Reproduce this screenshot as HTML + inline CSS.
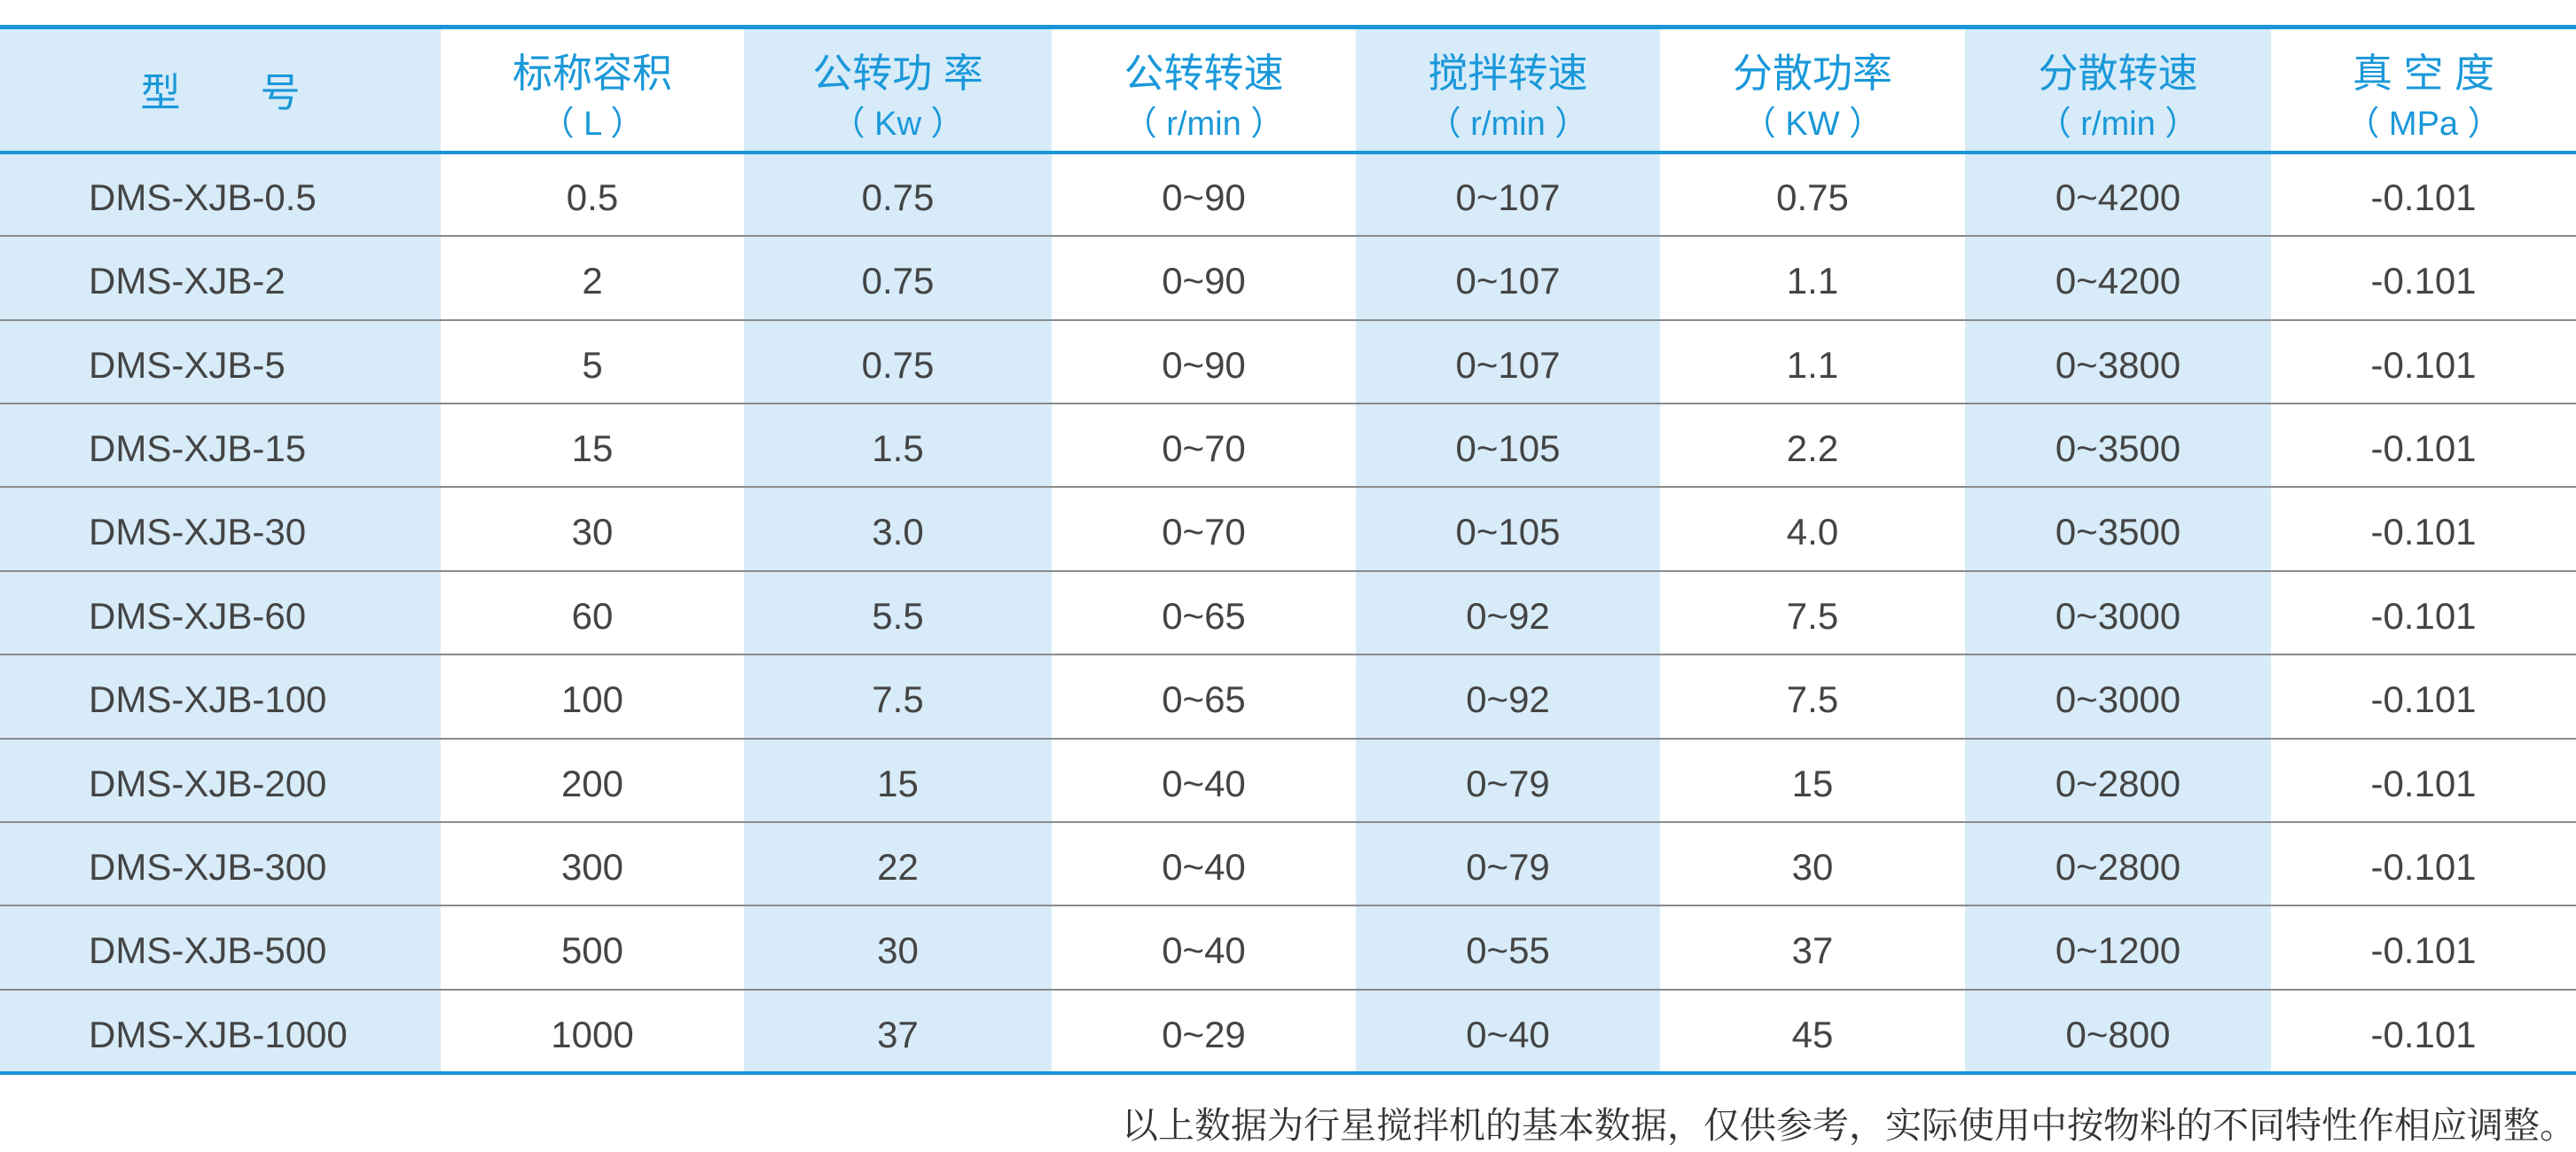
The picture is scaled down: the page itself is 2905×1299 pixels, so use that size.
<!DOCTYPE html>
<html><head><meta charset="utf-8">
<style>
html,body{margin:0;padding:0;background:#fff;}
body{width:2905px;height:1299px;position:relative;overflow:hidden;font-family:"Liberation Sans","Noto Sans CJK SC",sans-serif;}
.sh{position:absolute;background:#d7ebf9;}
.ln{position:absolute;left:0;width:2905px;}
.c{position:absolute;text-align:center;white-space:nowrap;}
.h1{color:#1a98d9;font-size:45px;line-height:50px;}
.h2{color:#1a98d9;font-size:38px;line-height:44px;}
.b{color:#444;font-size:42px;line-height:50px;}
.note{position:absolute;right:0;top:1244px;font-family:"Liberation Serif","Noto Serif CJK SC",serif;font-size:41px;line-height:50px;color:#333;white-space:nowrap;}
</style></head><body>
<div class="sh" style="left:0;top:30px;width:2905px;height:142px"></div>
<div class="sh" style="left:0;top:172px;width:497px;height:1038px"></div>
<div class="sh" style="left:839px;top:172px;width:347px;height:1038px"></div>
<div class="sh" style="left:1529px;top:172px;width:343px;height:1038px"></div>
<div class="sh" style="left:2216px;top:172px;width:345px;height:1038px"></div>
<div id="hdrwhite"></div>
<div class="ln" style="top:28px;height:5px;background:#1a96d8"></div>
<div class="ln" style="top:170px;height:4px;background:#1a96d8"></div>
<div class="ln" style="top:1208px;height:4px;background:#1a96d8"></div>
<div id="rows"></div>
<div class="note">以上数据为行星搅拌机的基本数据，仅供参考，实际使用中按物料的不同特性作相应调整。</div>
<script>
var cols=[0,497,839,1186,1529,1872,2216,2561,2905];
for(var i=1;i<8;i+=2){var d=document.createElement('div');d.style.cssText='position:absolute;background:#fff;top:33px;height:137px;left:'+cols[i]+'px;width:'+(cols[i+1]-cols[i])+'px';document.body.insertBefore(d,document.getElementById('hdrwhite'));}
var H=[["型　　号",""],["标称容积","（ L ）"],["公转功 率","（ Kw ）"],["公转转速","（ r/min ）"],["搅拌转速","（ r/min ）"],["分散功率","（ KW ）"],["分散转速","（ r/min ）"],["真 空 度","（ MPa ）"]];
var D=[["DMS-XJB-0.5","0.5","0.75","0~90","0~107","0.75","0~4200","-0.101"],
["DMS-XJB-2","2","0.75","0~90","0~107","1.1","0~4200","-0.101"],
["DMS-XJB-5","5","0.75","0~90","0~107","1.1","0~3800","-0.101"],
["DMS-XJB-15","15","1.5","0~70","0~105","2.2","0~3500","-0.101"],
["DMS-XJB-30","30","3.0","0~70","0~105","4.0","0~3500","-0.101"],
["DMS-XJB-60","60","5.5","0~65","0~92","7.5","0~3000","-0.101"],
["DMS-XJB-100","100","7.5","0~65","0~92","7.5","0~3000","-0.101"],
["DMS-XJB-200","200","15","0~40","0~79","15","0~2800","-0.101"],
["DMS-XJB-300","300","22","0~40","0~79","30","0~2800","-0.101"],
["DMS-XJB-500","500","30","0~40","0~55","37","0~1200","-0.101"],
["DMS-XJB-1000","1000","37","0~29","0~40","45","0~800","-0.101"]];
var h='';
for(var i=0;i<8;i++){var l=cols[i],w=cols[i+1]-cols[i];
 if(i==0){h+='<div class="c h1" style="left:'+l+'px;width:'+w+'px;top:80px">'+H[i][0]+'</div>';}
 else{h+='<div class="c h1" style="left:'+l+'px;width:'+w+'px;top:58px">'+H[i][0]+'</div>';
 h+='<div class="c h2" style="left:'+l+'px;width:'+w+'px;top:118px">'+H[i][1]+'</div>';}}
var rh=(1210-172)/11;
for(var r=0;r<11;r++){var t=172+r*rh;
 if(r>0)h+='<div class="ln" style="top:'+(t-1)+'px;height:2px;background:#8a8a8a"></div>';
 for(var i=0;i<8;i++){var l=cols[i],w=cols[i+1]-cols[i];
  if(i==0){h+='<div class="c b" style="left:100px;text-align:left;top:'+(t+26)+'px">'+D[r][i]+'</div>';}
  else h+='<div class="c b" style="left:'+l+'px;width:'+w+'px;top:'+(t+26)+'px">'+D[r][i]+'</div>';}}
document.getElementById('rows').outerHTML=h;
</script>
</body></html>
